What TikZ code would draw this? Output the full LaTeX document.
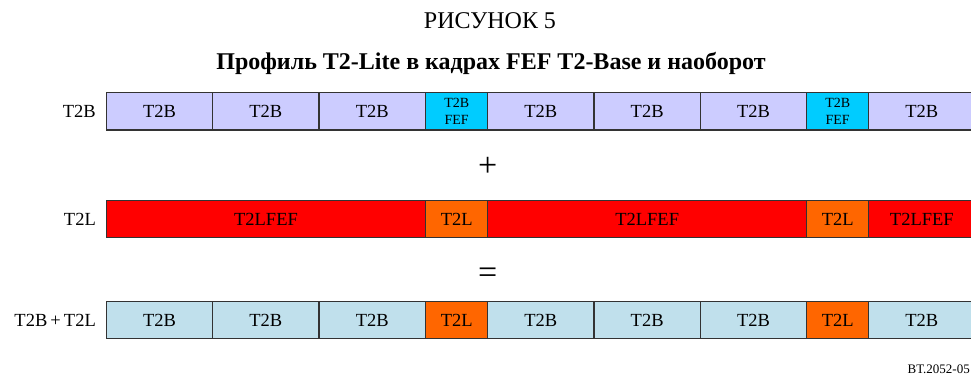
\documentclass[tikz,border=0pt]{standalone}
\usepackage{fontspec}
\setmainfont{Liberation Serif}
\definecolor{baseblue}{HTML}{CCCCFF}
\definecolor{fefcyan}{HTML}{00CCFF}
\definecolor{litered}{HTML}{FF0000}
\definecolor{liteorange}{HTML}{FF6600}
\definecolor{mixblue}{HTML}{C0E0EC}
\definecolor{edge}{HTML}{333333}
\tikzset{
  cell/.style={draw=edge, line width=1.5pt, inner sep=0pt, outer sep=0pt,
    text=black, font=\fontsize{18.5}{18.5}\selectfont},
  rowlabel/.style={anchor=east, inner sep=0pt, font=\fontsize{18.5}{18.5}\selectfont},
  opsign/.style={inner sep=0pt, font=\fontsize{34}{34}\selectfont},
}
% one cell of a frame row: #1 = x from, #2 = x to, #3 = y top, #4 = y bottom
\newcommand{\framecell}[7]{%
  \node[cell, fill=#5, minimum width={(#2-#1)*1pt}, minimum height={(#4-#3)*1pt},
        align=center] (#6) at ({(#1+#2)/2},{-(#3+#4)/2}) {#7};}
\newcommand{\fefsize}{\fontsize{14}{14}\selectfont}
\begin{document}
\begin{tikzpicture}[x=1pt,y=1pt]
\useasboundingbox (0,0) rectangle (971,-376);

% headings
\node[font=\fontsize{24}{24}\selectfont, inner sep=0pt] (fignum) at (490,-21) {РИСУНОК 5};
\node[font=\bfseries\fontsize{24}{24}\selectfont, inner sep=0pt] (figtitle) at (491,-63)
  {Профиль T2-Lite в кадрах FEF T2-Base и наоборот};

% T2-Base frames
\node[rowlabel] (lab1) at (96,-111) {T2B};
\framecell{106.3}{212.7}{92.7}{130}{baseblue}{a1}{T2B}
\framecell{212.7}{319}{92.7}{130}{baseblue}{a2}{T2B}
\framecell{319}{425.7}{92.7}{130}{baseblue}{a3}{T2B}
\framecell{425.7}{487.7}{92.7}{130}{fefcyan}{a4}{\fefsize T2B\\[-2pt]\fefsize FEF}
\framecell{487.7}{594}{92.7}{130}{baseblue}{a5}{T2B}
\framecell{594}{700.3}{92.7}{130}{baseblue}{a6}{T2B}
\framecell{700.3}{806.7}{92.7}{130}{baseblue}{a7}{T2B}
\framecell{806.7}{868.7}{92.7}{130}{fefcyan}{a8}{\fefsize T2B\\[-2pt]\fefsize FEF}
\framecell{868.7}{975}{92.7}{130}{baseblue}{a9}{T2B}

\node[opsign] (plus) at (487.7,-167) {+};

% T2-Lite frames
\node[rowlabel] (lab2) at (96,-219) {T2L};
\framecell{106.3}{425.7}{200.7}{237.3}{litered}{b1}{T2LFEF}
\framecell{425.7}{487.7}{200.7}{237.3}{liteorange}{b2}{T2L}
\framecell{487.7}{806.7}{200.7}{237.3}{litered}{b3}{T2LFEF}
\framecell{806.7}{868.7}{200.7}{237.3}{liteorange}{b4}{T2L}
\framecell{868.7}{975}{200.7}{237.3}{litered}{b5}{T2LFEF}

\node[opsign] (equals) at (487.7,-276) {=};

% combined frames
\node[rowlabel] (lab3) at (96,-320) {T2B\,+\,T2L};
\framecell{106.3}{212.7}{301.7}{338.7}{mixblue}{c1}{T2B}
\framecell{212.7}{319}{301.7}{338.7}{mixblue}{c2}{T2B}
\framecell{319}{425.7}{301.7}{338.7}{mixblue}{c3}{T2B}
\framecell{425.7}{487.7}{301.7}{338.7}{liteorange}{c4}{T2L}
\framecell{487.7}{594}{301.7}{338.7}{mixblue}{c5}{T2B}
\framecell{594}{700.3}{301.7}{338.7}{mixblue}{c6}{T2B}
\framecell{700.3}{806.7}{301.7}{338.7}{mixblue}{c7}{T2B}
\framecell{806.7}{868.7}{301.7}{338.7}{liteorange}{c8}{T2L}
\framecell{868.7}{975}{301.7}{338.7}{mixblue}{c9}{T2B}

\node[anchor=base east, inner sep=0pt, font=\fontsize{13}{13}\selectfont] (figref) at (970,-373) {BT.2052-05};
\end{tikzpicture}
\end{document}
